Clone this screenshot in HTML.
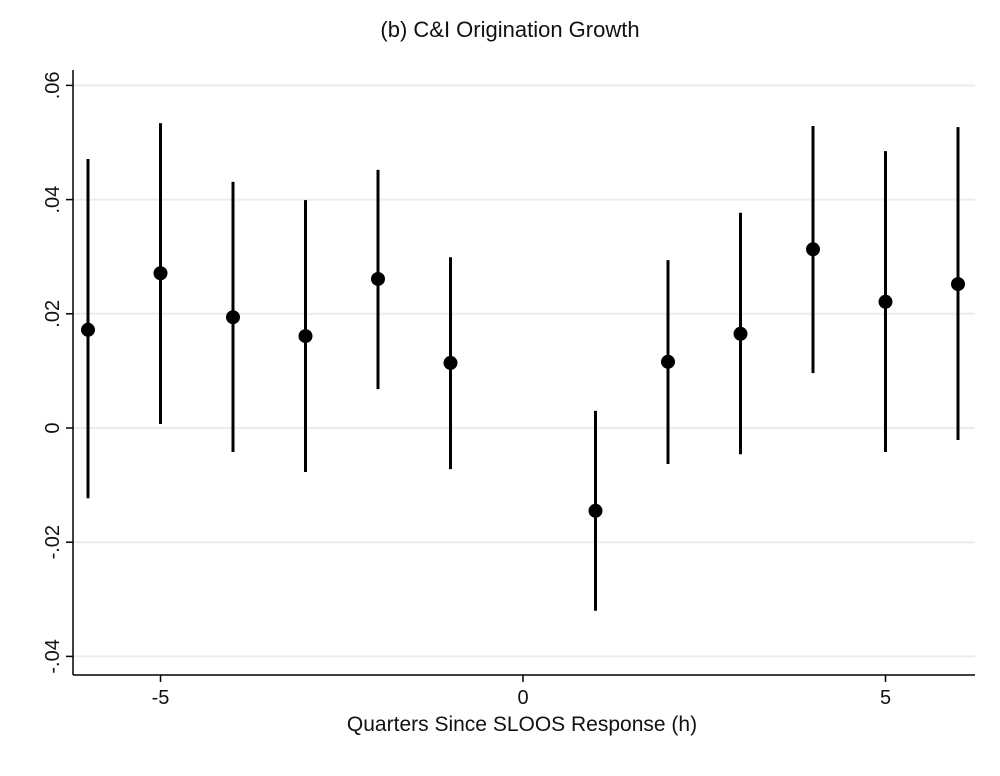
<!DOCTYPE html>
<html><head><meta charset="utf-8"><style>
body{margin:0;background:#fff;}
svg text{font-family:"Liberation Sans",sans-serif;fill:#111;}
</style></head><body>
<svg id="chart" width="1000" height="771">
<text x="510" y="37" font-size="22" text-anchor="middle">(b) C&amp;I Origination Growth</text>
<g id="grid"></g><g id="axes"></g><g id="marks"></g>
<text x="522" y="731" font-size="21" text-anchor="middle">Quarters Since SLOOS Response (h)</text>
</svg>
<script>
const horizons=[-6,-5,-4,-3,-2,-1,1,2,3,4,5,6];
const estimates=[0.0172,0.0271,0.0194,0.0161,0.0261,0.0114,-0.0145,0.0116,0.0165,0.0313,0.0221,0.0252];
const ciUpper=[0.0471,0.0534,0.0431,0.0399,0.0452,0.0299,0.0030,0.0294,0.0377,0.0529,0.0485,0.0527];
const ciLower=[-0.0123,0.0007,-0.0042,-0.0077,0.0068,-0.0072,-0.0320,-0.0063,-0.0046,0.0096,-0.0042,-0.0021];
const yTicks=[0.06,0.04,0.02,0,-0.02,-0.04];
const yTickLabels=[".06",".04",".02","0","-.02","-.04"];
const xTicks=[-5,0,5];
const xTickLabels=["-5","0","5"];
const NS="http://www.w3.org/2000/svg";
const X=v=>523+v*72.5;
const Y=v=>428-v*5710;
function mk(tag,attrs,parent){const e=document.createElementNS(NS,tag);for(const k in attrs)e.setAttribute(k,attrs[k]);document.getElementById(parent).appendChild(e);return e;}
const L=73,R=975,B=675;
yTicks.forEach((t,i)=>{
 const g=mk('line',{x1:L,x2:R,y1:Y(t),y2:Y(t),stroke:'#e6eef0','stroke-width':2},'grid');
 
 
 const tk=mk('line',{x1:L-7,x2:L,y1:Y(t),y2:Y(t),stroke:'#000','stroke-width':1.5},'axes');
 
 
 const tx=mk('text',{x:0,y:0,'font-size':20,'text-anchor':'middle',transform:`translate(${L-14},${Y(t)}) rotate(-90)`},'axes');
 tx.textContent=yTickLabels[i];
 
 
});
xTicks.forEach((t,i)=>{
 const tk=mk('line',{x1:X(t),x2:X(t),y1:B,y2:B+7,stroke:'#000','stroke-width':1.5},'axes');
 
 
 const tx=mk('text',{x:X(t),y:B+29,'font-size':20,'text-anchor':'middle'},'axes');
 tx.textContent=xTickLabels[i];
 
 
});
const ya=mk('line',{x1:L,x2:L,y1:70,y2:B,stroke:'#000','stroke-width':1.5},'axes');


const xa=mk('line',{x1:L,x2:R,y1:B,y2:B,stroke:'#000','stroke-width':1.5},'axes');


horizons.forEach((h,i)=>{
 const ci=mk('line',{x1:X(h),x2:X(h),y1:Y(ciUpper[i]),y2:Y(ciLower[i]),stroke:'#000','stroke-width':3},'marks');
 
 
 const p=mk('circle',{cx:X(h),cy:Y(estimates[i]),r:7,fill:'#000'},'marks');
 
 
});
</script>
</body></html>
